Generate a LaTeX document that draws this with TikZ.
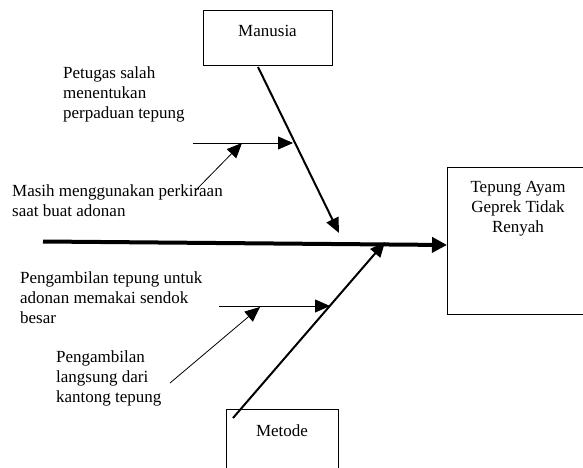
\documentclass[tikz,border=0pt]{standalone}
\usepackage{fontspec}
\setmainfont{Liberation Serif}
\usetikzlibrary{arrows.meta}

\tikzset{
    teks/.style={inner sep=0pt, align=left, anchor=north west, font=\fontsize{17}{20}\selectfont},
    kotak/.style={draw, thin, inner sep=0pt, font=\fontsize{17}{20}\selectfont},
    tulang/.style={->, line width=2pt},
    ranting/.style={->, line width=0.8pt},
}

\begin{document}
\begin{tikzpicture}[x=1pt, y=-1pt, >={Triangle[length=15pt, width=13pt]}]
        \useasboundingbox (0,0) rectangle (583,468);

        % ==================== kotak kategori dan akibat ====================
        \node[kotak, minimum width=129pt, text height=26pt, text depth=29pt] (manusia) at (267.5,38) {Manusia};
        \node[kotak, minimum width=112pt, text height=27pt, text depth=45pt] (metode) at (282,445) {Metode};
        % kotak akibat terpotong di tepi kanan, jadi sisi kanannya tidak digambar
        \node[inner sep=0pt, minimum width=150pt, minimum height=147pt, anchor=north west] (akibat) at (447,167) {};
        \draw[thin] (akibat.north east) -- (akibat.north west) -- (akibat.south west) -- (akibat.south east);
        \node[teks, align=center, anchor=north] (akibatteks) at (518,181.5) {Tepung Ayam\\Geprek Tidak\\Renyah};

        % ==================== teks penyebab ====================
        \node[teks] (petugas) at (63,66.5) {Petugas salah\\menentukan\\perpaduan tepung};
        \node[teks] (masih) at (12,184.5) {Masih menggunakan perkiraan\\saat buat adonan};
        \node[teks] (sendok) at (20,271.5) {Pengambilan tepung untuk\\adonan memakai sendok\\besar};
        \node[teks] (kantong) at (56,350.5) {Pengambilan\\langsung dari\\kantong tepung};

        % ==================== titik ujung garis ====================
        \coordinate (ekor) at (43,241.5);
        \coordinate (kepala) at (447,245);
        \coordinate (manusiaA) at (258,67);
        \coordinate (manusiaB) at (339,233);
        \coordinate (metodeA) at (233,418);
        \coordinate (metodeB) at (385,242);
        \coordinate (petugasA) at (193,143);
        \coordinate (petugasB) at (293,143);
        \coordinate (masihA) at (196,190);
        \coordinate (masihB) at (242,143);
        \coordinate (sendokA) at (219,306);
        \coordinate (sendokB) at (330,306);
        \coordinate (kantongA) at (170,383);
        \coordinate (kantongB) at (260,307);

        % tulang utama
        \draw[->, line width=4pt, >={Triangle[length=15pt, width=15pt]}] (ekor) -- (kepala);

        % tulang kategori
        \draw[tulang] (manusiaA) -- (manusiaB);
        \draw[tulang] (metodeA) -- (metodeB);

        % ranting penyebab
        \draw[ranting] (petugasA) -- (petugasB);
        \draw[ranting] (masihA) -- (masihB);
        \draw[ranting] (sendokA) -- (sendokB);
        \draw[ranting] (kantongA) -- (kantongB);

    \end{tikzpicture}
\end{document}
